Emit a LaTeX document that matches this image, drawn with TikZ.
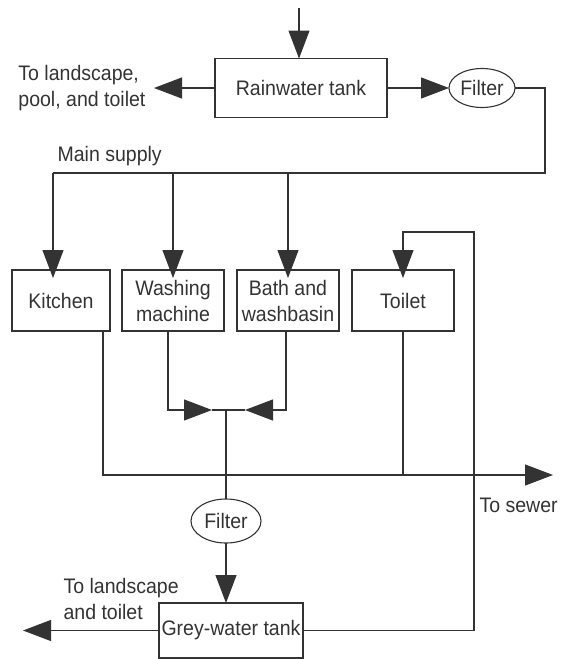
\documentclass[tikz,border=0pt]{standalone}
\usepackage{fontspec}
\setmainfont{Liberation Sans}[FakeStretch=0.93]
\usetikzlibrary{positioning, arrows.meta, shapes.geometric}

\begin{document}
\begin{tikzpicture}[x=1pt, y=-1pt, line width=1.1pt]
    \newlength\hpad
    \setlength\hpad{13pt}
    \colorlet{ink}{black!80}
    \tikzset{
        flow/.style={draw=ink, -{Triangle[length=28pt, width=21pt]}},
        pipe/.style={draw=ink},
        unit/.style={draw=ink, text=ink, align=center, outer sep=0pt,
            minimum width=102pt, minimum height=61pt, inner sep=2.5pt,
            font=\fontsize{21}{26}\selectfont},
        filter/.style={draw=ink, text=ink, ellipse, inner sep=1pt, outer sep=0pt,
            font=\fontsize{21}{24}\selectfont},
        note/.style={text=ink, align=left, inner sep=0pt,
            font=\fontsize{21}{26}\selectfont},
    }

    \useasboundingbox (0,0) rectangle (560,659);

    % RAINWATER TANK
    \node[unit, minimum width=172pt, minimum height=59pt] (rain) at (301,88) {Rainwater tank};
    \node[filter, minimum width=66pt, minimum height=39pt,
        right = 62pt of rain] (filter1) {Filter};
    \coordinate (rainin) at (299,8);
    \coordinate[left = 61pt of rain.west] (rainout);
    \node[note, left = 8pt of rainout] (rainlbl) {To landscape,\\pool, and toilet};

    % FIXTURES
    \node[unit, minimum width=98pt] (kitchen) at (61,300.5) {Kitchen};
    \node[unit, right = 12pt of kitchen] (washing) {Washing\\machine};
    \node[unit, right = \hpad of washing] (bath) {Bath and\\washbasin};
    \node[unit, right = \hpad of bath] (toilet) {Toilet};

    % GREY-WATER TANK
    \node[unit, minimum width=144pt, minimum height=55pt] (grey) at (231,630.5) {Grey-water tank};
    \node[filter, minimum width=70pt, minimum height=44pt] (filter2) at (226,521) {Filter};
    \coordinate[left = 136pt of grey.west] (greyout);

    % PIPE CORNERS
    \coordinate (supply) at (545,173);
    \coordinate (join) at (226,410);
    \coordinate (sewer) at (553,475);
    \coordinate (loop) at (474,232);

    % LABELS
    \node[note, anchor=west] (mainlbl) at (57,156) {Main supply};
    \node[note, anchor=west] (sewerlbl) at (479,505) {To sewer};
    \node[note, anchor=west] (greylbl) at (63,598.5) {To landscape\\and toilet};

    % Rainwater in and out
    \draw[flow] (rainin) -- (rainin |- rain.north);
    \draw[flow] (rain) -- (rainout);
    \draw[flow] (rain) -- (filter1);

    % Main supply to the fixtures
    \draw[pipe] (filter1) -| (supply) -- (supply -| 53,0);
    \draw[flow, shorten >=-8pt] (supply -| 53,0) -- (kitchen.north -| 53,0);
    \foreach \fixture in {washing, bath}
        \draw[flow, shorten >=-8pt] (supply -| \fixture.north) -- (\fixture.north);

    % Black water to sewer
    \draw[flow] ([xshift=-7pt]kitchen.south east) |- (sewer);
    \draw[pipe] (toilet.south) -- (toilet.south |- sewer);

    % Grey water collection
    \draw[flow] ([xshift=-5pt]washing.south) |- ([xshift=-14pt]join);
    \draw[flow] ([xshift=-2pt]bath.south) |- ([xshift=19pt]join);
    \draw[pipe] ([xshift=-14pt]join) -- ([xshift=19pt]join);
    \draw[pipe] (join) -- (filter2);
    \draw[flow] (filter2) -- (filter2.south |- grey.north);

    % Grey water reuse
    \draw[flow] (grey) -- (greyout);
    \draw[flow, shorten >=-8pt] (grey) -| (loop) -| (toilet.north);
\end{tikzpicture}
\end{document}
